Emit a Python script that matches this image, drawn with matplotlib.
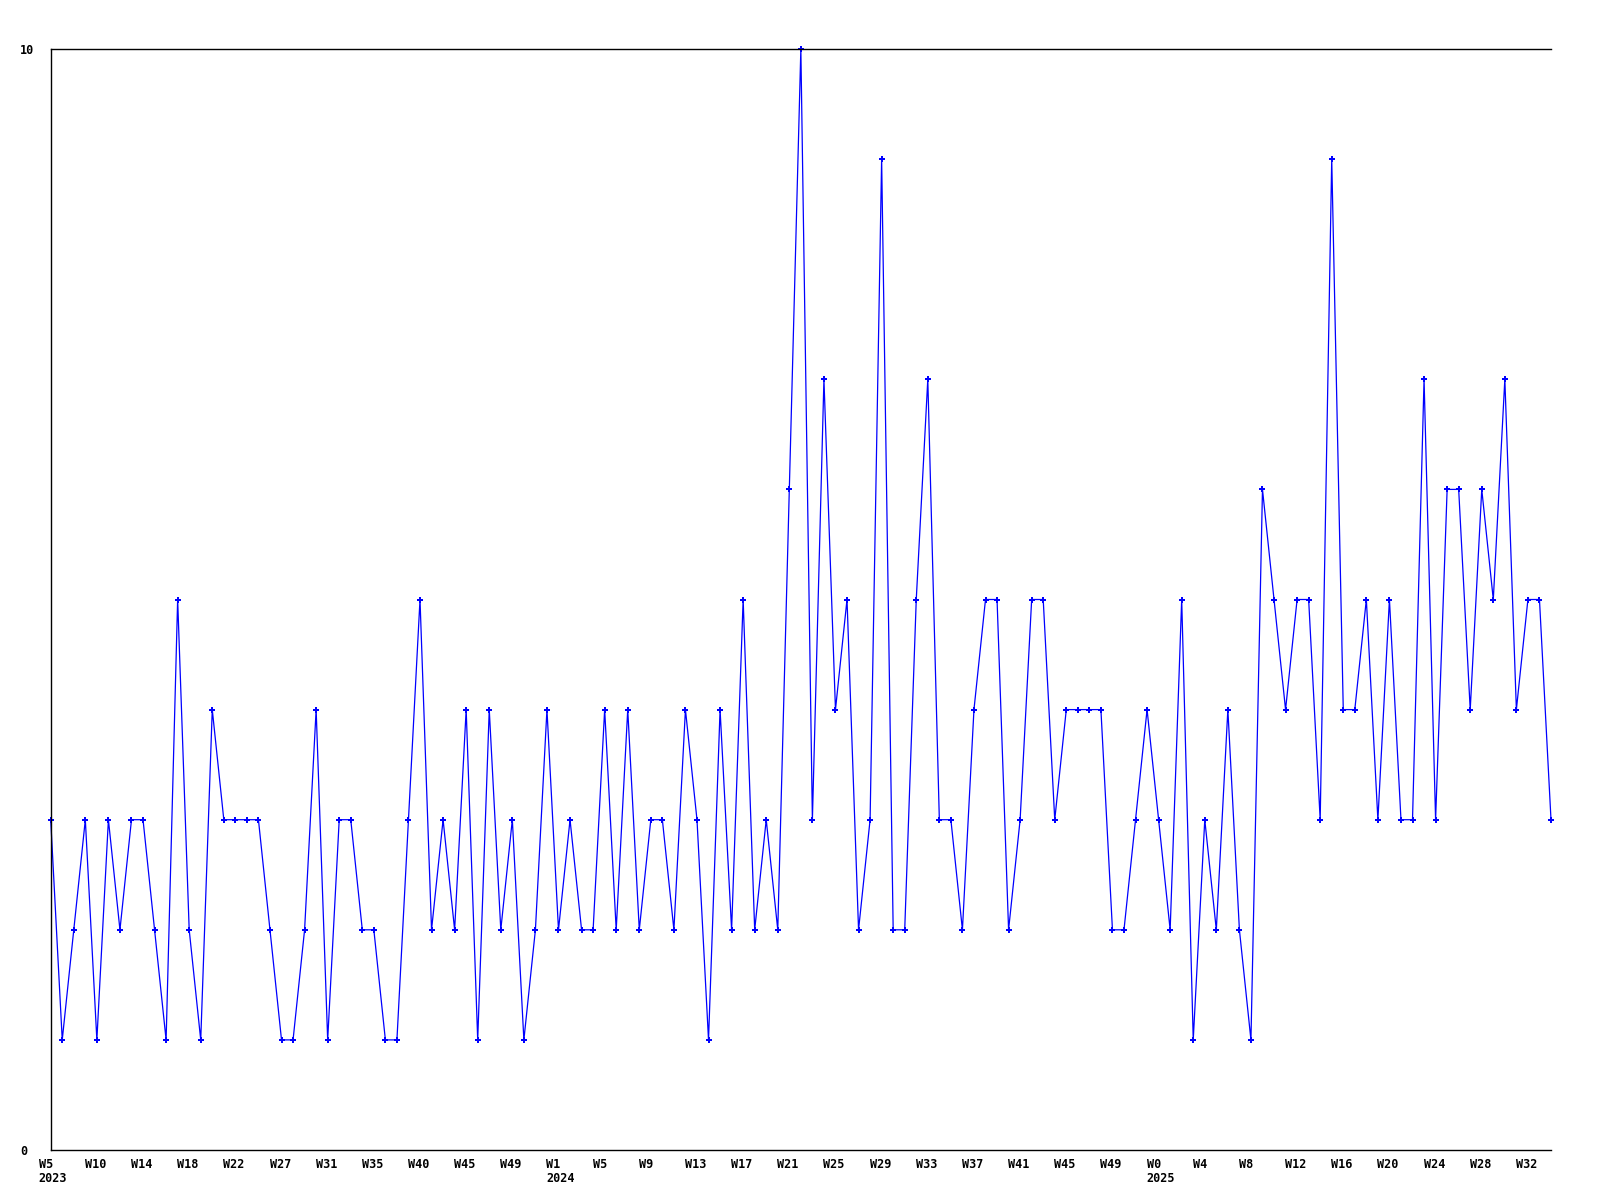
import matplotlib
matplotlib.use("Agg")
import matplotlib.pyplot as plt
from matplotlib.transforms import ScaledTranslation

# ---- data ----
values = [
    3, 1, 2, 3, 1, 3, 2, 3, 3, 2, 1, 5, 2, 1, 4, 3, 3, 3, 3, 2,
    1, 1, 2, 4, 1, 3, 3, 2, 2, 1, 1, 3, 5, 2, 3, 2, 4, 1, 4, 2,
    3, 1, 2, 4, 2, 3, 2, 2, 4, 2, 4, 2, 3, 3, 2, 4, 3, 1, 4, 2,
    5, 2, 3, 2, 6, 10, 3, 7, 4, 5, 2, 3, 9, 2, 2, 5, 7, 3, 3, 2,
    4, 5, 5, 2, 3, 5, 5, 3, 4, 4, 4, 4, 2, 2, 3, 4, 3, 2, 5, 1,
    3, 2, 4, 2, 1, 6, 5, 4, 5, 5, 3, 9, 4, 4, 5, 3, 5, 3, 3, 7,
    3, 6, 6, 4, 6, 5, 7, 4, 5, 5, 3,
]
week_labels = ["W5", "W10", "W14", "W18", "W22", "W27", "W31", "W35", "W40",
               "W45", "W49", "W1", "W5", "W9", "W13", "W17", "W21", "W25",
               "W29", "W33", "W37", "W41", "W45", "W49", "W0", "W4", "W8",
               "W12", "W16", "W20", "W24", "W28", "W32"]
year_labels = {0: "2023", 11: "2024", 24: "2025"}  # label index -> year
label_step = 4
y_ticks = [0, 10]

# ---- figure ----
fig = plt.figure(figsize=(16, 12), dpi=100)
ax = fig.add_axes([50.7 / 1600, 1 - 1150 / 1200, (1551 - 50.7) / 1600, (1150 - 49) / 1200])

x = list(range(len(values)))
ax.plot(x, values, color=(0, 0, 1), linewidth=0.9, marker='P', markersize=4.3,
        markeredgewidth=0, markerfacecolor=(0, 0, 1), clip_on=False)

ax.set_xlim(0, len(values) - 1)
ax.set_ylim(0, 10)

for s in ["left", "bottom", "top"]:
    ax.spines[s].set_color("black")
    ax.spines[s].set_linewidth(1.0)
ax.spines["right"].set_visible(False)

font = dict(family="DejaVu Sans Mono", weight="bold", size=8.5)

# y ticks
ax.set_yticks(y_ticks)
ax.set_yticklabels([str(v) for v in y_ticks], fontdict=font)
ax.tick_params(axis="y", length=0, pad=22)
for lab in ax.get_yticklabels():
    lab.set_ha("left")

# x ticks
tick_pos = [i * label_step for i in range(len(week_labels))]
tick_text = [w + ("\n" + year_labels[i] if i in year_labels else "")
             for i, w in enumerate(week_labels)]
ax.set_xticks(tick_pos)
ax.set_xticklabels(tick_text, fontdict=font, ha="left", va="top",
                   multialignment="left", linespacing=1.05)
ax.tick_params(axis="x", length=0, pad=6)
offset = ScaledTranslation(-12 / 100, 0, fig.dpi_scale_trans)
for lab in ax.get_xticklabels():
    lab.set_transform(lab.get_transform() + offset)

fig.savefig("out.png", dpi=100, facecolor="white")
